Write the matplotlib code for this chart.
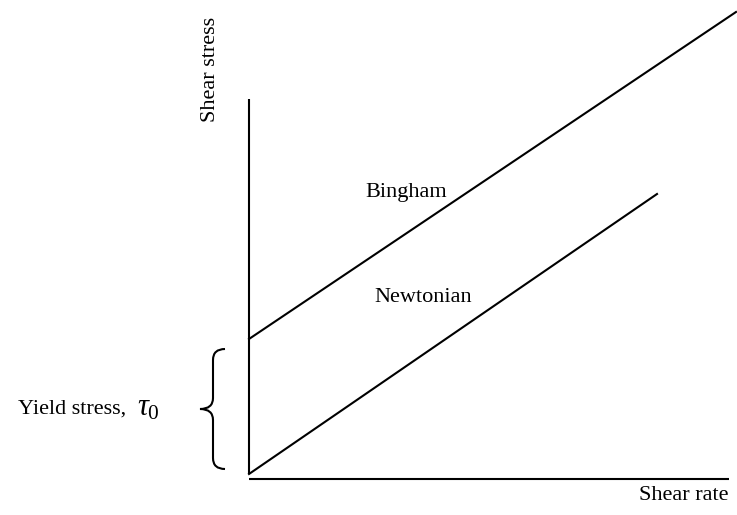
import matplotlib
matplotlib.use("Agg")
import matplotlib.pyplot as plt
from matplotlib.path import Path
from matplotlib.patches import PathPatch

plt.rcParams['font.family'] = ['Liberation Serif', 'DejaVu Serif']
plt.rcParams['mathtext.fontset'] = 'custom'
plt.rcParams['mathtext.it'] = 'Liberation Serif:italic'
plt.rcParams['mathtext.rm'] = 'Liberation Serif'

# data (shear rate, shear stress) in arbitrary units
bingham_x = [0, 487]
bingham_y = [135, 462]
newton_x = [0, 408]
newton_y = [0, 280]
yield_stress = 135

fig = plt.figure(figsize=(7.37, 5.15), dpi=100)
ax = fig.add_axes([0, 0, 1, 1])
ax.set_xlim(-249, 737 - 249)
ax.set_ylim(-(515 - 474), 474)
ax.axis('off')

# axes lines
ax.plot([0, 0], [0, 375], color='black', lw=1.5, solid_capstyle='butt')
ax.plot([0, 480], [-5, -5], color='black', lw=1.5, solid_capstyle='butt')

ax.plot(bingham_x, bingham_y, color='black', lw=1.5)
ax.plot(newton_x, newton_y, color='black', lw=1.5)

# curly brace for the yield stress
top, bot = yield_stress - 10, 5
mid = (top + bot) / 2
xr, xs, xt = -24, -36, -49
verts = [(xr, top), (xs, top), (xs, top - 11),
         (xs, mid + 11),
         (xs, mid), (xt, mid),
         (xs, mid), (xs, mid - 11),
         (xs, bot + 11),
         (xs, bot), (xr, bot)]
codes = [Path.MOVETO, Path.CURVE3, Path.CURVE3,
         Path.LINETO,
         Path.CURVE3, Path.CURVE3,
         Path.CURVE3, Path.CURVE3,
         Path.LINETO,
         Path.CURVE3, Path.CURVE3]
ax.add_patch(PathPatch(Path(verts, codes), fill=False, lw=1.5, color='black'))

fs = 16
ax.text(-38, 405, 'Shear stress', rotation=90, ha='center', va='center', fontsize=fs)
ax.text(157, 282, 'Bingham', ha='center', va='center', fontsize=fs)
ax.text(174, 176, 'Newtonian', ha='center', va='center', fontsize=fs)
ax.text(480, -21, 'Shear rate', ha='right', va='center', fontsize=fs)
ax.text(-231, 65, 'Yield stress,', ha='left', va='center', fontsize=fs)
ax.text(-89, 66, r'$\mathit{\tau_0}$', ha='right', va='center', fontsize=fs + 6)

fig.savefig('out.png', dpi=100)
